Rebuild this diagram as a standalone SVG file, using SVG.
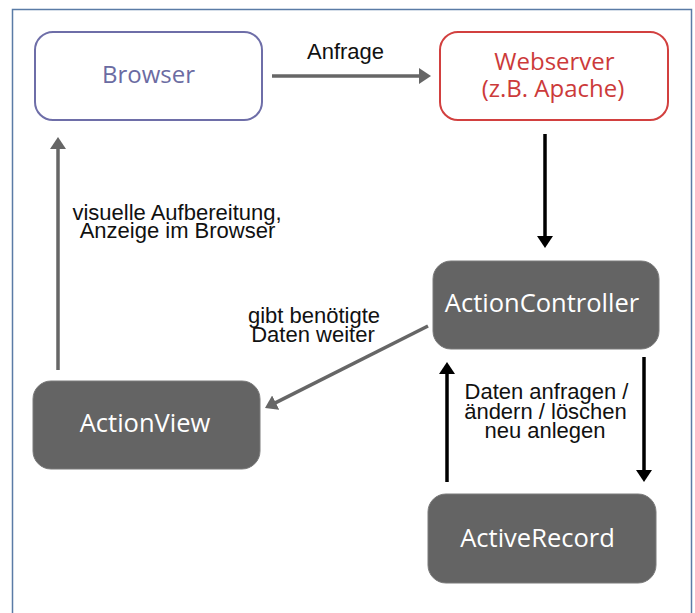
<svg xmlns="http://www.w3.org/2000/svg" width="695" height="613" viewBox="0 0 695 613">
  <style>
    .node-text { font-family: "Open Sans", "Noto Sans", sans-serif; font-size: 24px; text-anchor: middle; }
    .dark rect { fill: #646464; stroke: #7a7a7a; stroke-width: 1; }
    .dark text { fill: #ffffff; font-size: 25.5px; }
    .label { font-family: "Liberation Sans", Arial, sans-serif; font-size: 22px; fill: #111111; text-anchor: middle; }
    .grey { stroke: #666666; stroke-width: 3.5; fill: none; }
    .black { stroke: #000000; stroke-width: 3.5; fill: none; }
  </style>
  <defs>
    <marker id="ahGrey" markerUnits="userSpaceOnUse" markerWidth="12" markerHeight="16" refX="1" refY="8" orient="auto">
      <path d="M0,0 L12,8 L0,16 z" fill="#666666"/>
    </marker>
    <marker id="ahBlack" markerUnits="userSpaceOnUse" markerWidth="12" markerHeight="16" refX="1" refY="8" orient="auto">
      <path d="M0,0 L12,8 L0,16 z" fill="#000000"/>
    </marker>
  </defs>
  <rect x="0" y="0" width="695" height="613" fill="#ffffff"/>
  <rect id="frame" x="12.5" y="9.5" width="679" height="620" fill="none" stroke="#5a7ba6" stroke-width="1.5"/>

  <g id="browser">
    <rect x="35" y="32" width="227" height="88" rx="18" ry="18" fill="#ffffff" stroke="#6e6ea8" stroke-width="2"/>
    <text class="node-text" x="148.5" y="83" fill="#6b6ba2">Browser</text>
  </g>
  <g id="webserver">
    <rect x="440" y="32" width="228" height="88" rx="18" ry="18" fill="#ffffff" stroke="#d2403f" stroke-width="2"/>
    <text class="node-text" x="554.5" y="70" fill="#cc3a3a">Webserver</text>
    <text class="node-text" x="553" y="97" fill="#cc3a3a">(z.B. Apache)</text>
  </g>
  <g id="actioncontroller" class="dark">
    <rect x="433" y="261" width="226" height="88" rx="18" ry="18"/>
    <text class="node-text" x="542" y="312">ActionController</text>
  </g>
  <g id="actionview" class="dark">
    <rect x="33" y="381" width="227" height="88" rx="18" ry="18"/>
    <text class="node-text" x="145" y="432">ActionView</text>
  </g>
  <g id="activerecord" class="dark">
    <rect x="428" y="494" width="228" height="89" rx="18" ry="18"/>
    <text class="node-text" x="537.5" y="547">ActiveRecord</text>
  </g>

  <g id="connectors">
    <line class="grey" x1="272" y1="76" x2="420" y2="76" marker-end="url(#ahGrey)"/>
    <line class="black" x1="545" y1="134" x2="545" y2="237" marker-end="url(#ahBlack)"/>
    <line class="grey" x1="428" y1="326" x2="274.8" y2="403.1" marker-end="url(#ahGrey)"/>
    <line class="grey" x1="58" y1="370" x2="58" y2="148" marker-end="url(#ahGrey)"/>
    <line class="black" x1="447" y1="482" x2="447" y2="373" marker-end="url(#ahBlack)"/>
    <line class="black" x1="644" y1="357" x2="644" y2="471" marker-end="url(#ahBlack)"/>
  </g>

  <g id="labels">
    <text class="label" x="345.5" y="59">Anfrage</text>
    <text class="label" x="177" y="219.5">visuelle Aufbereitung,</text>
    <text class="label" x="177.5" y="238">Anzeige im Browser</text>
    <text class="label" x="314" y="322.5">gibt benötigte</text>
    <text class="label" x="313" y="342">Daten weiter</text>
    <text class="label" x="546.5" y="399">Daten anfragen /</text>
    <text class="label" x="545.5" y="418.5">ändern / löschen</text>
    <text class="label" x="545" y="438">neu anlegen</text>
  </g>
</svg>
